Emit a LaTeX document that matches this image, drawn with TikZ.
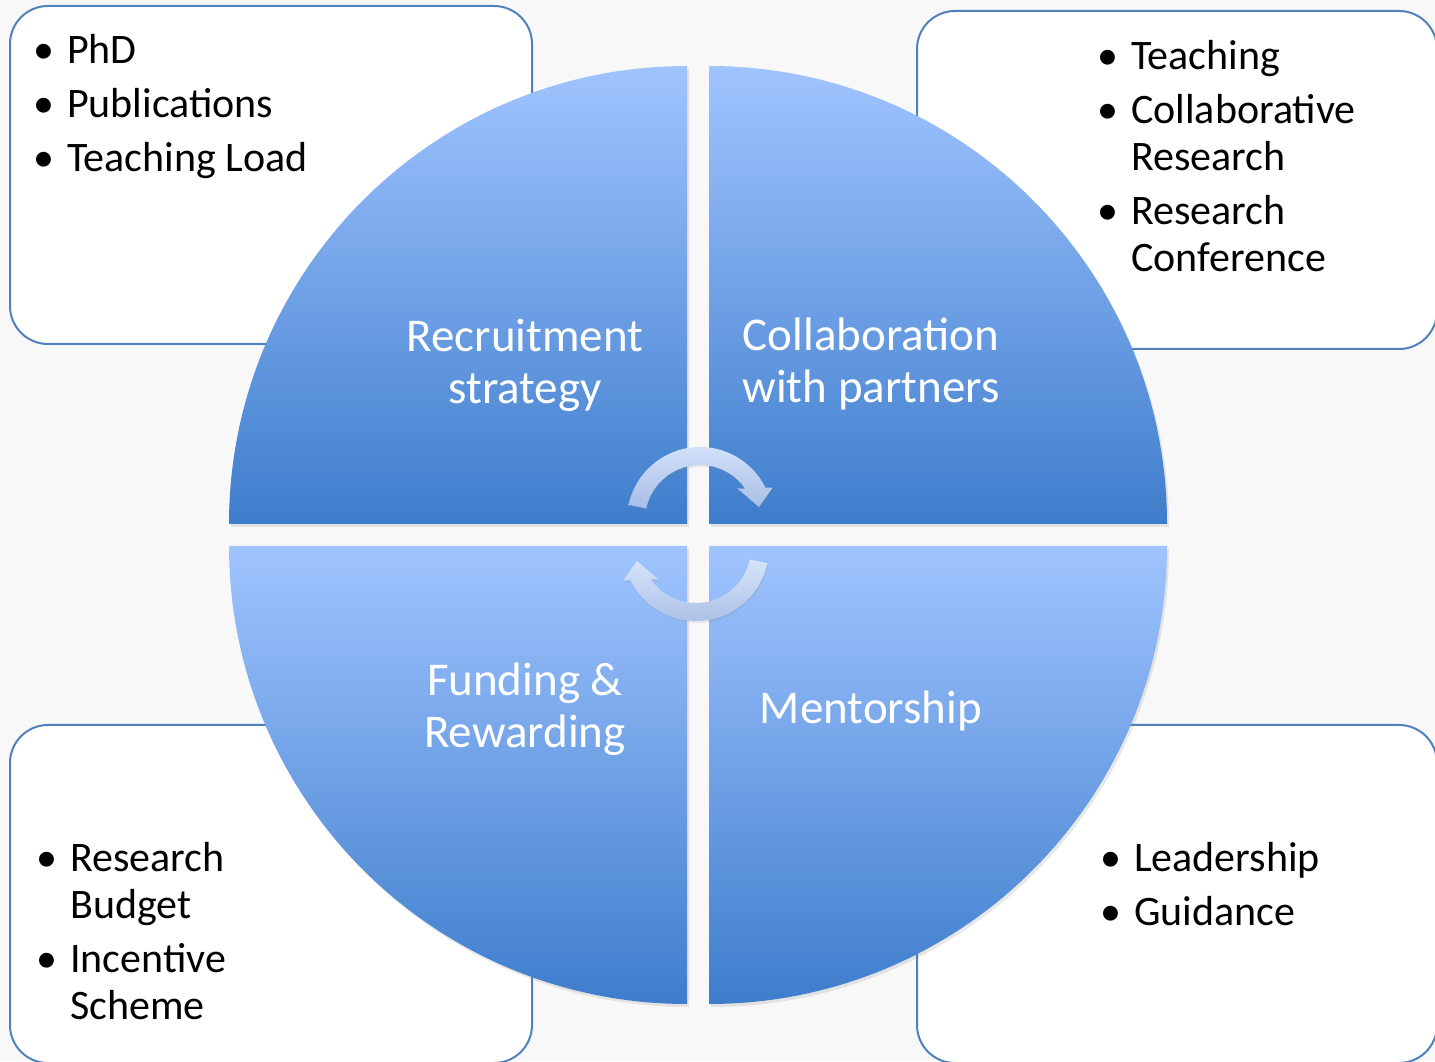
\documentclass[tikz,border=0pt]{standalone}
\usepackage{fontspec}
\setmainfont{Carlito}
\usetikzlibrary{calc,shadows}
\definecolor{bgcol}{RGB}{248,248,248}
\definecolor{boxline}{RGB}{79,129,189}
\definecolor{segtop}{RGB}{160,196,255}
\definecolor{segbot}{RGB}{62,125,204}
\definecolor{arrtop}{RGB}{214,228,250}
\definecolor{arrbot}{RGB}{168,190,230}
\newcommand{\listdot}{\makebox[34pt][l]{\textbullet}}

\begin{document}
\begin{tikzpicture}[
  x=1pt,y=1pt,
  infobox/.style={draw=boxline,line width=2pt,fill=white,rounded corners=38pt,minimum width=522pt,minimum height=338pt,inner sep=0pt},
  bullets/.style={anchor=base west,inner sep=0pt,font=\fontsize{42}{47}\selectfont},
  seg/.style={top color=segtop,bottom color=segbot,drop shadow={opacity=0.18,shadow xshift=2pt,shadow yshift=-3pt}},
  seglabel/.style={text=white,align=center,inner sep=0pt,font=\fontsize{47}{52}\selectfont},
  cyc/.style={top color=arrtop,bottom color=arrbot,drop shadow={opacity=0.15,shadow xshift=1pt,shadow yshift=-2pt}}
]
\useasboundingbox (0,0) rectangle (1435,1061);
\fill[bgcol] (0,0) rectangle (1435,1061);

% corner boxes
\node[infobox] (bTL) at (271,886) {};
\node[infobox,minimum width=520pt] (bTR) at (1177,881) {};
\node[infobox] (bBL) at (271,167) {};
\node[infobox,minimum width=520pt] (bBR) at (1177,167) {};

% four quarter segments
\coordinate (qTL) at (687,537);
\coordinate (qTR) at (709,537);
\coordinate (qBL) at (687,515);
\coordinate (qBR) at (709,515);
\foreach \q/\a in {qTL/180,qTR/90,qBR/0,qBL/270}{
  \path[seg] (\q) -- ++(\a:458) arc[start angle=\a,end angle=\a-90,radius=458] -- cycle;}

% cycle arrows
\coordinate (c1) at (700,541);
\coordinate (c2) at (696,513);
\foreach \c/\r in {c1/0,c2/180}{
  \path[cyc] ($(\c)+(\r+168:73)$) arc[start angle=\r+168,end angle=\r+26.4,radius=73]
    -- ($(\c)+(\r+24:79.5)$) -- ($(\c)+(\r+12.4:60.4)$) -- ($(\c)+(\r+40.1:49)$)
    -- ($(\c)+(\r+34.8:55)$) arc[start angle=\r+34.8,end angle=\r+168,radius=55] -- cycle;}

% segment labels
\node[seglabel] (lRec) at (525,696) {Recruitment\\strategy};
\node[seglabel] (lCol) at (871,697) {Collaboration\\with partners};
\node[seglabel] (lFun) at (525,352) {Funding \&\\Rewarding};
\node[seglabel,anchor=base] (lMen) at (871,337) {Mentorship};

% bullet lists
\node[bullets] (tTL) at (33,997) {\begin{tabular}[t]{@{}l@{}l@{}}
  \listdot & PhD\\[7pt] \listdot & Publications\\[7pt] \listdot & Teaching Load\end{tabular}};
\node[bullets] (tTR) at (1097,991) {\begin{tabular}[t]{@{}l@{}l@{}}
  \listdot & Teaching\\[7pt] \listdot & Collaborative\\ & Research\\[7pt] \listdot & Research\\ & Conference\end{tabular}};
\node[bullets] (tBL) at (36,190) {\begin{tabular}[t]{@{}l@{}l@{}}
  \listdot & Research\\ & Budget\\[7pt] \listdot & Incentive\\ & Scheme\end{tabular}};
\node[bullets] (tBR) at (1100,190) {\begin{tabular}[t]{@{}l@{}l@{}}
  \listdot & Leadership\\[7pt] \listdot & Guidance\end{tabular}};
\end{tikzpicture}
\end{document}
